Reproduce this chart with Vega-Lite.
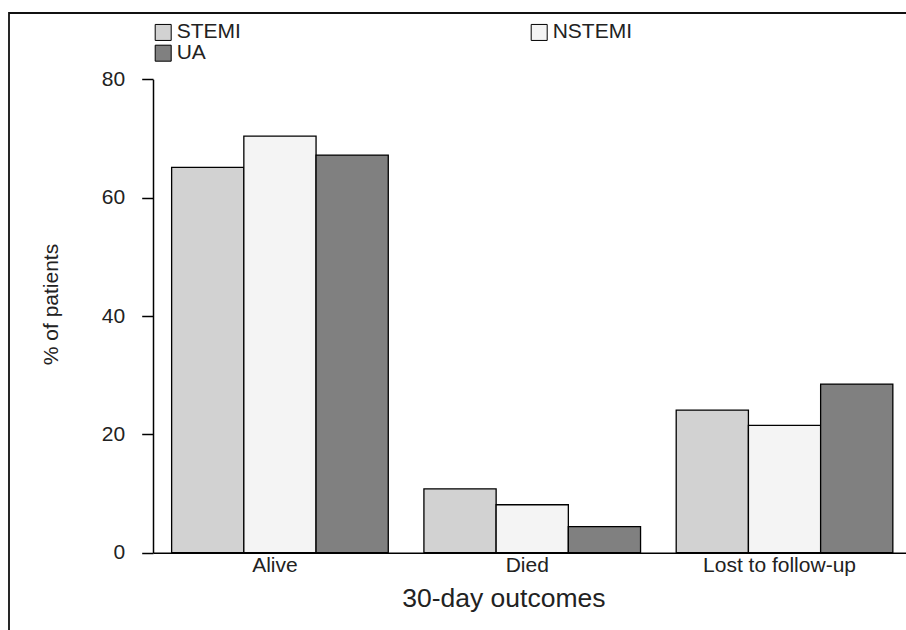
{
  "$schema": "https://vega.github.io/schema/vega-lite/v6.json",
  "width": 897,
  "height": 617,
  "autosize": {"type": "none"},
  "padding": {"left": 9, "top": 13, "right": 0, "bottom": 0},
  "config": {
    "font": "Liberation Sans",
    "view": {"stroke": "#111111", "strokeWidth": 1.8, "strokeDash": [897, 1514, 617]},
    "axis": {"grid": false}
  },
  "data": {
    "values": [
      {"outcome": "Alive", "type": "STEMI", "pct": 65.1},
      {"outcome": "Alive", "type": "NSTEMI", "pct": 70.4},
      {"outcome": "Alive", "type": "UA", "pct": 67.2},
      {"outcome": "Died", "type": "STEMI", "pct": 10.8},
      {"outcome": "Died", "type": "NSTEMI", "pct": 8.1},
      {"outcome": "Died", "type": "UA", "pct": 4.4},
      {"outcome": "Lost to follow-up", "type": "STEMI", "pct": 24.1},
      {"outcome": "Lost to follow-up", "type": "NSTEMI", "pct": 21.5},
      {"outcome": "Lost to follow-up", "type": "UA", "pct": 28.5}
    ]
  },
  "mark": {"type": "bar", "stroke": "#000000", "strokeWidth": 1.3},
  "encoding": {
    "x": {
      "field": "outcome",
      "type": "nominal",
      "sort": ["Alive", "Died", "Lost to follow-up"],
      "scale": {"range": [144, 897], "paddingInner": 0.1413, "paddingOuter": 0.063, "align": 0.586},
      "axis": {
        "orient": "bottom",
        "offset": -77.3,
        "domainColor": "#000000",
        "domainWidth": 1.5,
        "ticks": false,
        "tickSize": 0,
        "labelAngle": 0,
        "labelFontSize": 21,
        "labelColor": "#222222",
        "labelPadding": 2,
        "labelOffset": -5,
        "title": "30-day outcomes",
        "titleFontSize": 26.5,
        "titleFontWeight": "normal",
        "titleColor": "#222222",
        "titleX": 494.3,
        "titleY": 54,
        "titleAlign": "center",
        "titleBaseline": "alphabetic"
      }
    },
    "xOffset": {
      "field": "type",
      "type": "nominal",
      "sort": ["STEMI", "NSTEMI", "UA"],
      "scale": {"paddingInner": 0, "paddingOuter": 0}
    },
    "y": {
      "field": "pct",
      "type": "quantitative",
      "scale": {"domain": [0, 80], "range": [539.7, 66.3], "nice": false},
      "axis": {
        "orient": "left",
        "offset": -144,
        "values": [0, 20, 40, 60, 80],
        "domainColor": "#000000",
        "domainWidth": 1.5,
        "tickColor": "#000000",
        "tickWidth": 1.5,
        "tickSize": 11.3,
        "labelFontSize": 21,
        "labelColor": "#222222",
        "labelPadding": 17,
        "title": "% of patients",
        "titleFontSize": 21,
        "titleFontWeight": "normal",
        "titleColor": "#222222",
        "titleAngle": -90,
        "titleX": -95.7,
        "titleY": 291,
        "titleAlign": "center",
        "titleBaseline": "alphabetic"
      }
    },
    "fill": {
      "field": "type",
      "type": "nominal",
      "scale": {"domain": ["STEMI", "NSTEMI", "UA"], "range": ["#d2d2d2", "#f4f4f4", "#808080"]},
      "legend": {
        "orient": "none",
        "legendX": 143.7,
        "legendY": 8.7,
        "direction": "horizontal",
        "columns": 2,
        "columnPadding": 287,
        "rowPadding": -2,
        "padding": 0,
        "title": null,
        "symbolType": "square",
        "symbolSize": 256,
        "symbolStrokeColor": "#000000",
        "symbolStrokeWidth": 1,
        "symbolOpacity": 1,
        "labelFontSize": 21,
        "labelColor": "#222222",
        "labelOffset": 3
      }
    }
  }
}
